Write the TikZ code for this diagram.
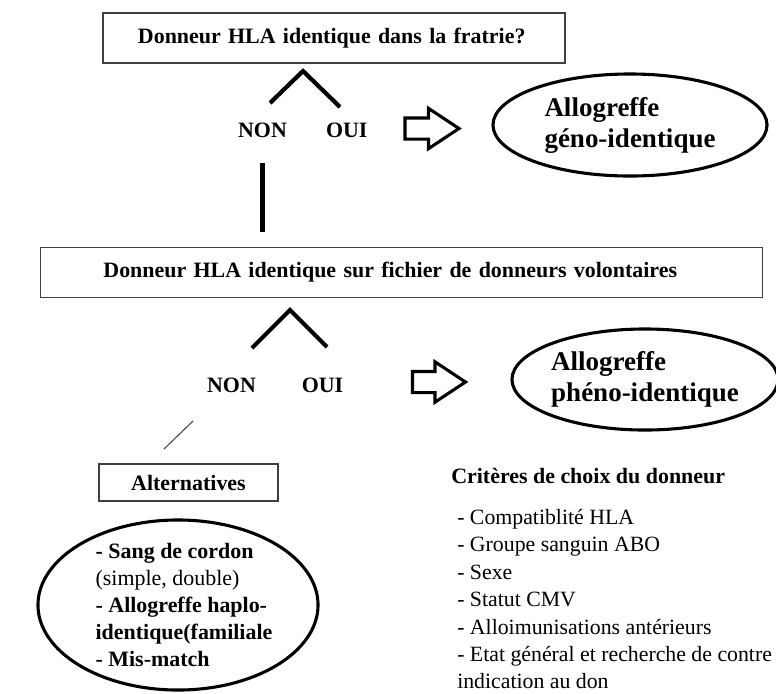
\documentclass[tikz,border=0pt]{standalone}
\usepackage{fontspec}
\setmainfont{Liberation Serif}
\usetikzlibrary{shapes.geometric,shapes.arrows,positioning}

\begin{document}
\begin{tikzpicture}[x=0.025cm,y=-0.025cm,
    qbox/.style={draw=black!75,line width=1.1pt,minimum height=1.25cm,align=left,font=\fontsize{15.6}{19}\selectfont\bfseries},
    rep/.style={anchor=base,font=\fontsize{15.6}{19}\selectfont\bfseries},
    trait/.style={line width=3pt},
    fleche/.style={single arrow,draw,line width=2.2pt,single arrow head extend=0.24cm,single arrow tip angle=67,inner xsep=0pt,inner ysep=0.225cm,minimum height=1.35cm},
    allo/.style={ellipse,draw,line width=2.2pt,inner sep=0pt,align=left,font=\fontsize{19.2}{22}\selectfont\bfseries}]
    \useasboundingbox(0,0)rectangle(776,693);
    \node[qbox,text width=9.8cm,inner xsep=0.875cm](fratrie)at(334,38){Donneur HLA identique dans la fratrie?};
    \node[rep](non1)at(262.5,137){NON};
    \node[rep](oui1)[right=0.73cm of non1]{OUI};
    \coordinate(c1g)at(270,103);
    \coordinate(c1h)at(303,71);
    \coordinate(c1d)at(340,107);
    \draw[trait](c1g)--(c1h)--(c1d);
    \node[fleche](f1)at(424,128.5){};
    \node[allo,minimum width=6.85cm,minimum height=2.55cm](geno)at(630,125){Allogreffe\\géno-identique};
    \node[qbox,text width=14.9cm,inner xsep=1.575cm](fichier)at(401.5,272.5){Donneur HLA identique sur fichier de donneurs volontaires};
    \draw[trait,shorten <=0.525cm,shorten >=0.375cm](non1.south)--(non1.south|-fichier.north);
    \node[rep](non2)at(231.5,392){NON};
    \node[rep](oui2)[right=0.9cm of non2]{OUI};
    \coordinate(c2g)at(252,348);
    \coordinate(c2h)at(290,310);
    \coordinate(c2d)at(327,347);
    \draw[trait](c2g)--(c2h)--(c2d);
    \node[fleche,minimum height=1.325cm](f2)at(431,382){};
    \node[allo,minimum width=6.65cm,minimum height=2.525cm](pheno)at(645,379.5){Allogreffe\\phéno-identique};
    \coordinate(d1)at(193,421);
    \coordinate(d2)at(164,449);
    \draw[black!70,line width=0.8pt](d1)--(d2);
    \node[qbox,minimum width=4.475cm,minimum height=0.925cm](alt)at(188.5,482.5){Alternatives};
    \node[align=left,inner sep=0pt,font=\fontsize{15.6}{19.2}\selectfont](choix)at(184,605){\textbf{- Sang de cordon}\\(simple, double)\\\textbf{- Allogreffe haplo-}\\\textbf{identique(familiale}\\\textbf{- Mis-match}};
    \draw[line width=2.2pt](178,605)ellipse[x radius=3.5cm,y radius=2.125cm];
    \node[anchor=base west,inner sep=0pt,font=\fontsize{15.6}{19}\selectfont\bfseries](crit)at(451,483){Critères de choix du donneur};
    \node[anchor=north west,inner sep=0pt,align=left,font=\fontsize{15.5}{19.5}\selectfont](liste)at(457,509){- Compatiblité HLA\\- Groupe sanguin ABO\\- Sexe\\- Statut CMV\\- Alloimunisations antérieurs\\- Etat général et recherche de contre\\indication au don};
\end{tikzpicture}
\end{document}
